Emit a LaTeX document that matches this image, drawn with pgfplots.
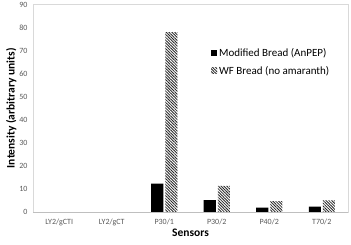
\documentclass[border=0pt]{standalone}
\usepackage{fontspec}
\setmainfont{Carlito}
\usepackage{pgfplots}
\pgfplotsset{compat=1.18}
\usetikzlibrary{patterns.meta}
\definecolor{tickgray}{HTML}{595959}
\definecolor{framegray}{HTML}{D9D9D9}
\definecolor{axisgray}{HTML}{BFBFBF}
\begin{document}
\begin{tikzpicture}
\path[use as bounding box] (0,0) rectangle (351bp,245bp);
\begin{axis}[
  at={(33bp,33bp)}, anchor=south west,
  width=315bp, height=207.5bp, scale only axis,
  xmin=-0.5, xmax=5.5, ymin=0, ymax=90,
  ytick={0,10,...,90},
  xtick={0,1,2,3,4,5},
  xticklabels={LY2/gCTI,LY2/gCT,P30/1,P30/2,P40/2,T70/2},
  major tick length=0pt,
  axis line style={framegray, line width=0.6bp},
  ticklabel style={font=\fontsize{8bp}{9.6bp}\selectfont, text=tickgray},
  /pgf/number format/assume math mode=true,
  yticklabel style={xshift=-2bp},
  xticklabel style={yshift=-3bp},
  xlabel={\bfseries Sensors},
  ylabel={\bfseries Intensity (arbitrary units)},
  label style={font=\fontsize{11.5bp}{13bp}\selectfont},
  xlabel style={yshift=3bp},
  ylabel style={yshift=-4bp},
  ybar, bar width=12bp,
  legend style={at={(0.565,0.80)}, anchor=north west, draw=none, fill=none,
    font=\fontsize{11bp}{13bp}\selectfont, inner sep=0pt,
    row sep=4.5bp, legend cell align=left},
  legend image code/.code={\path[#1,draw=none] (0bp,-3bp) rectangle (6bp,3bp);},
  clip=false,
]
\addplot[draw=none, fill=black, bar shift=-7bp] coordinates {(0,0) (1,0) (2,12.3) (3,5.1) (4,1.9) (5,2.3)};
\addlegendentry{Modified Bread (AnPEP)}
\addplot[draw=none, pattern={Lines[angle=-45,distance=2bp,line width=0.85bp]}, pattern color=black!85, bar shift=7bp] coordinates {(0,0) (1,0) (2,78) (3,11.3) (4,4.7) (5,5)};
\addlegendentry{WF Bread (no amaranth)}
\draw[axisgray, line width=0.8bp] (axis cs:-0.5,0) -- (axis cs:5.5,0);
\end{axis}
\end{tikzpicture}
\end{document}
